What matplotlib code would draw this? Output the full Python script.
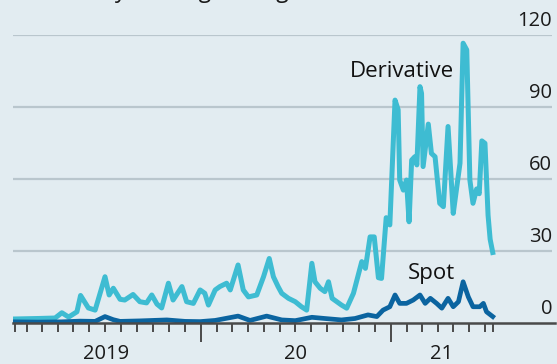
import numpy as np
import pandas as pd
import matplotlib
matplotlib.use("Agg")
import matplotlib.pyplot as plt
import matplotlib.dates as mdates
import matplotlib.transforms as mtransforms

# derivative volume, $bn (7-day moving average)
deriv_dates = ["2019-01-09", "2019-02-22", "2019-03-27", "2019-04-09", "2019-04-22", "2019-05-08",
               "2019-05-15", "2019-05-30", "2019-06-12", "2019-07-01", "2019-07-09", "2019-07-17",
               "2019-07-30", "2019-08-08", "2019-08-24", "2019-09-06", "2019-09-19", "2019-09-29",
               "2019-10-09", "2019-10-18", "2019-10-31", "2019-11-09", "2019-11-26", "2019-12-05",
               "2019-12-18", "2019-12-31", "2020-01-09", "2020-01-16", "2020-01-29", "2020-02-07",
               "2020-02-20", "2020-02-27", "2020-03-13", "2020-03-23", "2020-04-02", "2020-04-18",
               "2020-05-01", "2020-05-12", "2020-05-20", "2020-05-29", "2020-06-05", "2020-06-18",
               "2020-07-01", "2020-07-13", "2020-07-23", "2020-08-02", "2020-08-08", "2020-08-18",
               "2020-08-27", "2020-09-03", "2020-09-10", "2020-09-19", "2020-09-28", "2020-10-08",
               "2020-10-21", "2020-11-06", "2020-11-13", "2020-11-22", "2020-11-30", "2020-12-08",
               "2020-12-14", "2020-12-23", "2020-12-30", "2021-01-09", "2021-01-15", "2021-01-18",
               "2021-01-25", "2021-01-31", "2021-02-05", "2021-02-10", "2021-02-16", "2021-02-20",
               "2021-02-26", "2021-03-01", "2021-03-04", "2021-03-14", "2021-03-20", "2021-03-27",
               "2021-04-05", "2021-04-12", "2021-04-21", "2021-05-01", "2021-05-07", "2021-05-14",
               "2021-05-20", "2021-05-27", "2021-06-02", "2021-06-08", "2021-06-15", "2021-06-20",
               "2021-06-25", "2021-07-01", "2021-07-07", "2021-07-11", "2021-07-16"]
deriv_vals = [1.8, 2.0, 2.2, 4.4, 2.6, 4.8,
              11.6, 6.4, 5.5, 19.4, 11.8, 14.6,
              10.0, 9.7, 12.0, 9.0, 8.5, 11.8,
              8.0, 6.4, 16.7, 9.7, 15.3, 9.0,
              8.3, 13.9, 12.5, 7.6, 13.9, 15.3,
              16.7, 13.9, 24.3, 13.9, 11.0, 11.8,
              19.4, 27.0, 19.4, 15.3, 12.5, 10.4,
              9.0, 6.9, 5.5, 25.0, 17.3, 14.6,
              13.2, 17.3, 10.4, 9.0, 7.6, 6.3,
              12.5, 25.7, 22.9, 36.0, 36.0, 19.0,
              18.7, 44.0, 41.0, 93.0, 89.0, 59.7,
              55.5, 59.7, 42.3, 68.0, 69.4, 66.0,
              98.6, 95.8, 65.3, 83.0, 70.8, 69.4,
              50.0, 48.6, 82.0, 45.8, 55.5, 66.7,
              116.7, 113.9, 59.7, 50.0, 56.0, 54.0,
              76.0, 75.0, 45.0, 35.0, 29.5]

# spot volume, $bn
spot_dates = ["2019-01-09", "2019-02-22", "2019-04-08", "2019-05-14", "2019-06-12", "2019-07-01",
              "2019-07-17", "2019-07-30", "2019-09-06", "2019-10-28", "2019-12-02", "2019-12-31",
              "2020-01-29", "2020-03-13", "2020-04-05", "2020-05-07", "2020-06-05", "2020-07-01",
              "2020-08-02", "2020-08-27", "2020-09-28", "2020-10-24", "2020-11-18", "2020-12-05",
              "2020-12-17", "2020-12-30", "2021-01-09", "2021-01-18", "2021-01-31", "2021-02-13",
              "2021-02-26", "2021-03-08", "2021-03-18", "2021-03-30", "2021-04-09", "2021-04-21",
              "2021-05-01", "2021-05-11", "2021-05-20", "2021-05-30", "2021-06-08", "2021-06-21",
              "2021-06-28", "2021-07-04", "2021-07-16"]
spot_vals = [0.6, 0.5, 0.6, 0.9, 0.8, 2.8,
             1.5, 0.8, 1.0, 1.4, 0.8, 0.7,
             1.2, 3.0, 1.2, 3.0, 1.4, 1.1,
             2.5, 2.0, 1.4, 2.0, 3.5, 2.8,
             5.5, 6.9, 11.8, 8.3, 8.3, 9.7,
             11.8, 8.3, 10.4, 8.3, 6.3, 10.4,
             6.9, 9.0, 17.3, 11.0, 6.9, 6.9,
             8.3, 4.8, 2.8]

y_ticks = [0, 30, 60, 90, 120]
year_labels = ["2019", "20", "21"]
subtitle = r"\$bn, 7-day moving average"

BG = "#e2ecf1"
DERIV_C = "#3ebcd2"
SPOT_C = "#0b64a0"
GRID_C = "#b9c6cd"
AXIS_C = "#4a4a4a"

plt.rcParams['font.family'] = ['Open Sans', 'DejaVu Sans']

d_x = pd.to_datetime(deriv_dates)
s_x = pd.to_datetime(spot_dates)
start, end = d_x[0], d_x[-1]

fig = plt.figure(figsize=(5.57, 3.64), dpi=100, facecolor=BG)
ax = fig.add_axes([13 / 557, 1 - 323.3 / 364, (552 - 13) / 557, (323.3 - 35.3) / 364])
ax.set_facecolor(BG)

ax.set_xlim(pd.Timestamp("2019-01-05"), pd.Timestamp("2021-11-07"))
ax.set_ylim(0, 120)

# gridlines + labels sitting on top of them at the right
for v in y_ticks[1:]:
    ax.axhline(v, color=GRID_C, lw=1.6, zorder=1)
for v in y_ticks:
    ax.annotate(str(v), xy=(1.0, v), xycoords=("axes fraction", "data"),
                xytext=(0, 3), textcoords="offset points",
                ha="right", va="bottom", fontsize=14.5, color="#1a1a1a",
                annotation_clip=False)

ax.plot(d_x, deriv_vals, color=DERIV_C, lw=3.6, solid_joinstyle="round", zorder=3)
ax.plot(s_x, spot_vals, color=SPOT_C, lw=3.4, solid_joinstyle="round", zorder=4)

for s in ["top", "right", "left"]:
    ax.spines[s].set_visible(False)
ax.spines["bottom"].set_color(AXIS_C)
ax.spines["bottom"].set_linewidth(1.8)
ax.spines["bottom"].set_zorder(5)
ax.spines["bottom"].set_bounds(mdates.date2num(pd.Timestamp("2019-01-05")),
                               mdates.date2num(pd.Timestamp("2021-11-12")))

# ticks: months inside the data range, longer at year boundaries
months = pd.date_range("2019-02-01", end, freq="MS")
years = [m for m in months if m.month == 1]
minor = [start] + [m for m in months if m.month != 1] + [end]
ax.set_xticks(years)
ax.set_xticks(minor, minor=True)
ax.tick_params(axis="x", which="major", length=13.5, width=1.4, color=AXIS_C, labelbottom=False)
ax.tick_params(axis="x", which="minor", length=6.5, width=1.4, color=AXIS_C, labelbottom=False)
ax.set_yticks([])

# year labels centred on the visible part of each year
trans = mtransforms.blended_transform_factory(ax.transData, ax.transAxes)
bounds = [pd.Timestamp("2019-01-01"), pd.Timestamp("2020-01-01"), pd.Timestamp("2021-01-01"), end]
for i, lab in enumerate(year_labels):
    mid = bounds[i] + (bounds[i + 1] - bounds[i]) / 2
    ax.text(mid, -0.124, lab, transform=trans, ha="center", va="baseline",
            fontsize=14.5, color="#1a1a1a")

ax.text(pd.Timestamp("2020-10-14"), 102.5, "Derivative", fontsize=16, color="#111111",
        ha="left", va="baseline")
ax.text(pd.Timestamp("2021-02-03"), 18.5, "Spot", fontsize=16, color="#111111",
        ha="left", va="baseline")

# subtitle, mostly cropped off the top of the frame
fig.text(15 / 557, 1 + 3 / 364, subtitle, fontsize=16.5, color="#1a1a1a",
         ha="left", va="baseline")

fig.savefig("out.png", dpi=100, facecolor=BG)
